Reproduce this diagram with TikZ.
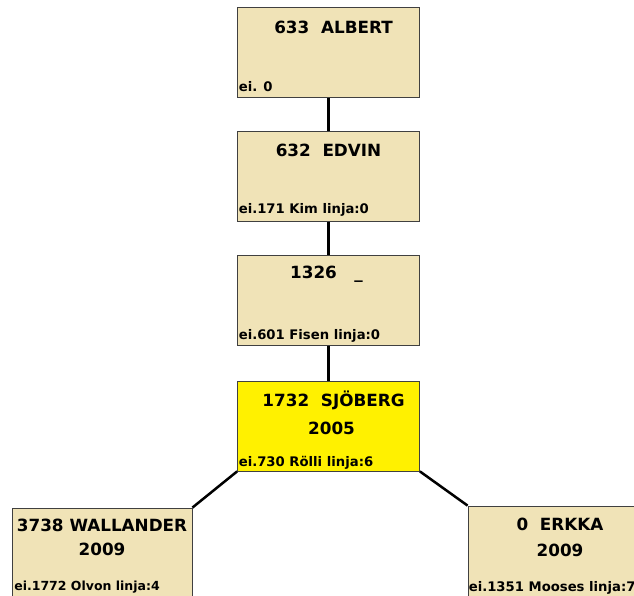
\documentclass[tikz,border=0pt]{standalone}
\usepackage{fontspec}
\setmainfont{DejaVu Sans}
\usetikzlibrary{positioning}
\definecolor{tan}{RGB}{240,227,183}
\definecolor{selyellow}{RGB}{255,241,0}
\tikzset{
  person/.style={draw=black!75, line width=0.8pt, fill=tan, minimum width=182pt, minimum height=90pt, inner sep=0pt},
  chosen/.style={person, fill=selyellow},
  title/.style={font=\bfseries\fontsize{16.8}{19}\selectfont, inner sep=0pt, anchor=base},
  info/.style={font=\bfseries\fontsize{13.2}{15}\selectfont, inner sep=0pt, anchor=base west},
  link/.style={line width=2.5pt},
}

\begin{document}
\begin{tikzpicture}[x=1pt, y=-1pt]
  \useasboundingbox (0,0) rectangle (634,595);
  \clip (0,0) rectangle (634,595);

  % boxes
  \node[person] (albert)    at (328.5,52.5) {};
  \node[person] (edvin)     at (328.5,176.5) {};
  \node[person] (nr1326)    at (328.5,300.5) {};
  \node[chosen] (sjoberg)   at (328.5,426) {};
  \node[person, minimum width=180pt] (wallander) at (102,553) {};
  \node[person] (erkka)     at (559,551) {};

  % connectors
  \draw[link] (albert) -- (edvin);
  \draw[link] (edvin) -- (nr1326);
  \draw[link] (nr1326) -- (sjoberg);
  \draw[link] (sjoberg.south west) -- (wallander.north east);
  \draw[link] (sjoberg.south east) -- (erkka.north west);

  % names
  \node[title] (albertname)  at ([xshift=5pt,yshift=-26pt]albert.north) {633\ \ ALBERT};
  \node[title] (edvinname)   at ([xshift=0pt,yshift=-25pt]edvin.north) {632\ \ EDVIN};
  \node[title] (nr1326name)  at ([xshift=-2pt,yshift=-23pt]nr1326.north) {1326\ \ \ \_};
  \node[title] (sjobergname) at ([xshift=5pt,yshift=-26pt]sjoberg.north) {1732\ \ SJÖBERG};
  \node[title] (sjobergyear) at ([xshift=3pt,yshift=-54pt]sjoberg.north) {2005};
  \node[title] (wallandername) at ([yshift=-24pt]wallander.north) {3738 WALLANDER};
  \node[title] (wallanderyear) at ([yshift=-48pt]wallander.north) {2009};
  \node[title] (erkkaname)   at ([xshift=1pt,yshift=-25pt]erkka.north) {0\ \ ERKKA};
  \node[title] (erkkayear)   at ([xshift=1pt,yshift=-51pt]erkka.north) {2009};

  % lines at the bottom of the boxes
  \node[info] (alberttxt)    at ([shift={(1.5pt,6pt)}]albert.south west) {ei. 0};
  \node[info] (edvintxt)     at ([shift={(1.5pt,8pt)}]edvin.south west) {ei.171 Kim linja:0};
  \node[info] (nr1326txt)    at ([shift={(1.5pt,6pt)}]nr1326.south west) {ei.601 Fisen linja:0};
  \node[info] (sjobergtxt)   at ([shift={(1.5pt,5pt)}]sjoberg.south west) {ei.730 Rölli linja:6};
  \node[info, font=\bfseries\fontsize{12.5}{14}\selectfont] (wallandertxt) at ([shift={(2.5pt,8pt)}]wallander.south west) {ei.1772 Olvon linja:4};
  \node[info] (erkkatxt)     at ([shift={(1pt,5pt)}]erkka.south west) {ei.1351 Mooses linja:7};
\end{tikzpicture}
\end{document}
